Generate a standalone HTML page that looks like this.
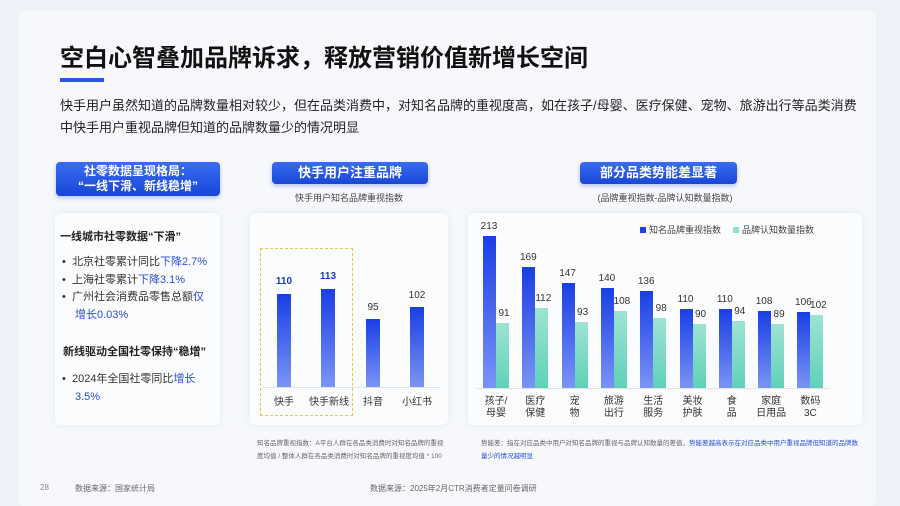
<!DOCTYPE html>
<html><head><meta charset="utf-8"><style>
body{margin:0;width:900px;height:506px;background:#eef1f7;font-family:"Liberation Sans","Noto Sans CJK SC",sans-serif;position:relative;overflow:hidden;color:#222}
.a{position:absolute}
.slide{left:18px;top:10px;width:858px;height:496px;background:#f6f8fc;border-radius:6px}
.hd{background:linear-gradient(180deg,#3a6cf0,#1846d8);color:#fff;font-weight:bold;text-align:center;border-radius:4px;box-shadow:0 2px 4px rgba(30,70,200,.3)}
.card{background:#fbfcfe;border-radius:6px;box-shadow:0 0 8px rgba(180,190,220,.25)}
.b{background:linear-gradient(180deg,#1a3ee6,#7a94f5)}
.t{background:linear-gradient(180deg,#9ee3d3,#5fd1b8)}
.v{font-size:10px;color:#333;text-align:center;width:30px}
.l{font-size:10px;color:#333;text-align:center;width:40px;line-height:12px}
.hl{color:#2b4fd8}
</style></head><body>
<div class="a slide"></div>
<div class="a" style="left:60px;top:38px;font-size:24px;font-weight:bold;color:#111">空白心智叠加品牌诉求，释放营销价值新增长空间</div>
<div class="a" style="left:60px;top:78px;width:44px;height:4px;background:#2a55e6"></div>
<div class="a" style="left:60px;top:95px;font-size:13px;line-height:22px;width:800px;color:#222">快手用户虽然知道的品牌数量相对较少，但在品类消费中，对知名品牌的重视度高，如在孩子/母婴、医疗保健、宠物、旅游出行等品类消费中快手用户重视品牌但知道的品牌数量少的情况明显</div>

<div class="a hd" style="left:56px;top:162px;width:164px;height:34px;font-size:12px;line-height:15px;padding-top:2px;box-sizing:border-box">社零数据呈现格局：<br>“一线下滑、新线稳增”</div>
<div class="a hd" style="left:272px;top:162px;width:156px;height:22px;font-size:13px;line-height:22px">快手用户注重品牌</div>
<div class="a hd" style="left:580px;top:162px;width:157px;height:22px;font-size:13px;line-height:22px">部分品类势能差显著</div>
<div class="a" style="left:250px;top:191px;width:198px;text-align:center;font-size:9px;color:#444">快手用户知名品牌重视指数</div>
<div class="a" style="left:468px;top:191px;width:394px;text-align:center;font-size:9px;color:#444">(品牌重视指数-品牌认知数量指数)</div>

<div class="a card" style="left:55px;top:213px;width:165px;height:212px"></div>
<div class="a" style="left:60px;top:228px;font-size:11px;font-weight:bold">一线城市社零数据“下滑”</div>
<div class="a" style="left:62px;top:254px;font-size:11px;line-height:17.5px;color:#333;width:150px">
<div>•&nbsp;&nbsp;北京社零累计同比<span class="hl">下降2.7%</span></div>
<div>•&nbsp;&nbsp;上海社零累计<span class="hl">下降3.1%</span></div>
<div style="padding-left:13px;text-indent:-13px">•&nbsp;&nbsp;广州社会消费品零售总额<span class="hl">仅增长0.03%</span></div>
</div>
<div class="a" style="left:63px;top:343px;font-size:11px;font-weight:bold">新线驱动全国社零保持“稳增”</div>
<div class="a" style="left:62px;top:371px;font-size:11px;line-height:17.5px;color:#333;width:150px;padding-left:13px;text-indent:-13px;box-sizing:border-box">•&nbsp;&nbsp;2024年全国社零同比<span class="hl">增长3.5%</span></div>

<div class="a card" style="left:250px;top:213px;width:198px;height:212px"></div>
<div class="a" style="left:260px;top:248px;width:93px;height:168px;border:1px dashed #e6c84a;box-sizing:border-box"></div>
<div class="a" style="left:262px;top:387px;width:178px;height:1px;background:#dde2ec"></div>
<div class="a b" style="left:277px;top:294px;width:14px;height:93px"></div>
<div class="a b" style="left:321px;top:289px;width:14px;height:98px"></div>
<div class="a b" style="left:366px;top:319px;width:14px;height:68px"></div>
<div class="a b" style="left:410px;top:307px;width:14px;height:80px"></div>
<div class="a v" style="left:269px;top:276px;font-weight:bold;color:#1a3cc0">110</div>
<div class="a v" style="left:313px;top:271px;font-weight:bold;color:#1a3cc0">113</div>
<div class="a v" style="left:358px;top:302px">95</div>
<div class="a v" style="left:402px;top:290px">102</div>
<div class="a l" style="left:264px;top:397px">快手</div>
<div class="a l" style="left:304px;top:397px;width:50px">快手新线</div>
<div class="a l" style="left:353px;top:397px">抖音</div>
<div class="a l" style="left:397px;top:397px">小红书</div>
<div class="a" style="left:257px;top:437px;width:190px;font-size:6.5px;line-height:13px;color:#666">知名品牌重视指数：A平台人群在各品类消费时对知名品牌的重视度均值 / 整体人群在各品类消费时对知名品牌的重视度均值 * 100</div>

<div class="a card" style="left:468px;top:213px;width:394px;height:212px"></div>
<div class="a" style="left:477px;top:388px;width:352px;height:1px;background:#dde2ec"></div>
<div class="a" style="left:640px;top:223px;font-size:9px;color:#444"><span style="display:inline-block;width:6px;height:6px;background:#2140e0;margin-right:3px"></span>知名品牌重视指数</div>
<div class="a" style="left:733px;top:223px;font-size:9px;color:#444"><span style="display:inline-block;width:6px;height:6px;background:#8fe0cc;margin-right:3px"></span>品牌认知数量指数</div>
<svg class="a" style="left:0;top:0" width="900" height="506"></svg>
<div id="rc"></div>
<script>
var d=[[213,91,"孩子/<br>母婴"],[169,112,"医疗<br>保健"],[147,93,"宠<br>物"],[140,108,"旅游<br>出行"],[136,98,"生活<br>服务"],[110,90,"美妆<br>护肤"],[110,94,"食<br>品"],[108,89,"家庭<br>日用品"],[106,102,"数码<br>3C"]];
var h="";d.forEach(function(e,i){var x=483+i*39.3,k=0.714,hb=e[0]*k,ht=e[1]*k;
h+='<div class="a b" style="left:'+x+'px;top:'+(388-hb)+'px;width:13px;height:'+hb+'px"></div>';
h+='<div class="a t" style="left:'+(x+13)+'px;top:'+(388-ht)+'px;width:13px;height:'+ht+'px"></div>';
h+='<div class="a v" style="left:'+(x-9)+'px;top:'+(388-hb-15)+'px">'+e[0]+'</div>';
h+='<div class="a v" style="left:'+(x+6)+'px;top:'+(388-ht-15)+'px">'+e[1]+'</div>';
h+='<div class="a l" style="left:'+(x-7)+'px;top:396px">'+e[2]+'</div>';});
document.getElementById("rc").innerHTML=h;
</script>
<div class="a" style="left:481px;top:437px;width:380px;font-size:6.5px;line-height:13px;color:#666">势能差：指在对应品类中用户对知名品牌的重视与品牌认知数量的差值，<span class="hl">势能差越高表示在对应品类中用户重视品牌但知道的品牌数量少的情况越明显</span></div>

<div class="a" style="left:40px;top:483px;font-size:8px;color:#888">28</div>
<div class="a" style="left:75px;top:483px;font-size:8px;color:#666">数据来源：国家统计局</div>
<div class="a" style="left:370px;top:483px;font-size:8px;color:#666">数据来源：2025年2月CTR消费者定量问卷调研</div>
</body></html>
